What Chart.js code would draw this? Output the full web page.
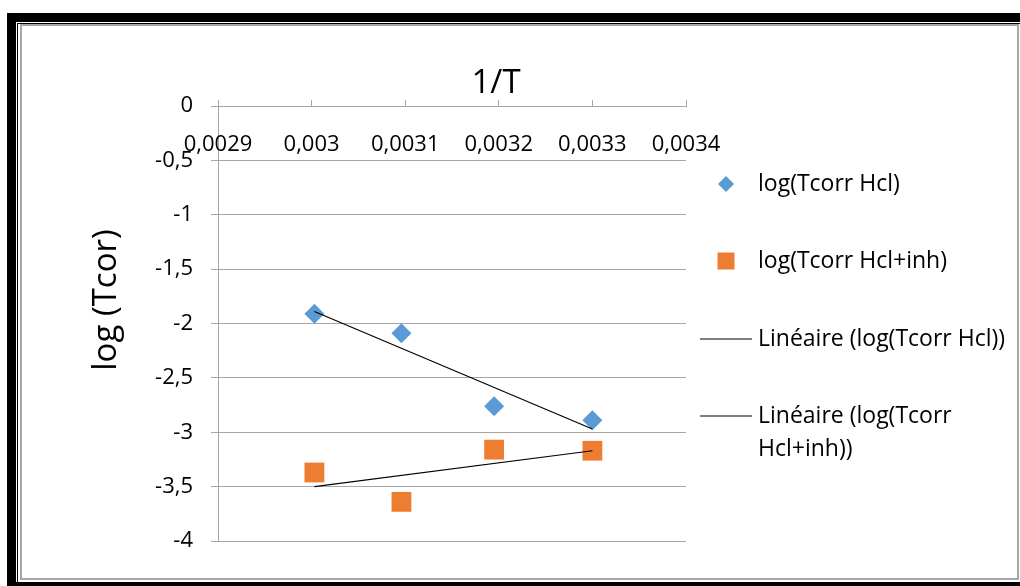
<!DOCTYPE html>
<html>
<head>
<meta charset="utf-8">
<script src="https://cdn.jsdelivr.net/npm/chart.js@4"></script>
<style>
    html, body { margin: 0; padding: 0; background: #fff; overflow: hidden; }
    body { width: 1020px; height: 586px; position: relative; }
    .outer { position: absolute; left: 7px; top: 13px; width: 1040px; height: 560px; border: 9px solid #000; }
    .inner { position: absolute; left: 17px; top: 23px; width: 1040px; height: 600px; border-left: 1px solid #000; border-top: 1px solid #000; }
    .box { position: absolute; left: 20px; top: 24px; width: 995px; height: 552px; border: 2px solid #a6a6a6; background: #fff; }
    canvas { display: block; }
</style>
</head>
<body>
<div class="outer"></div>
<div class="inner"></div>
<div class="box"><canvas id="tafelChart" width="995" height="552"></canvas></div>
<script>
// 1/T values (K^-1)
const invT = [0.003003, 0.003096, 0.003195, 0.0033];
const logTcorrHcl = [-1.91, -2.09, -2.76, -2.89];
const logTcorrInh = [-3.37, -3.64, -3.16, -3.17];

// trendline ends
const trendX = [0.003003, 0.0033];
const trendHcl = [-1.89, -2.97];
const trendInh = [-3.50, -3.17];

const xTicks = [0.0029, 0.003, 0.0031, 0.0032, 0.0033, 0.0034];
const yTicks = [0, -0.5, -1, -1.5, -2, -2.5, -3, -3.5, -4];

const legendLabels = [
    ["log(Tcorr Hcl)"],
    ["log(Tcorr Hcl+inh)"],
    ["Linéaire (log(Tcorr Hcl))"],
    ["Linéaire (log(Tcorr", "Hcl+inh))"]
];

const FONT = "'Open Sans', sans-serif";
const GRID = "#a6a6a6";
const TICK_SIZE = 22;

function pts(xs, ys) {
    return xs.map(function (x, i) { return { x: x, y: ys[i] }; });
}

function commaLabel(v) {
    return String(v).replace(".", ",");
}

// x tick labels sit under the top axis line, plus axis titles and legend
const decorations = {
    id: "decorations",
    afterDraw: function (chart) {
        const ctx = chart.ctx;
        const xs = chart.scales.x;
        ctx.save();
        ctx.fillStyle = "#000";

        ctx.font = TICK_SIZE + "px " + FONT;
        ctx.textAlign = "center";
        ctx.textBaseline = "middle";
        xTicks.forEach(function (v) {
            ctx.fillText(commaLabel(v), xs.getPixelForValue(v), xs.bottom + 39);
        });

        ctx.font = "33px " + FONT;
        ctx.textBaseline = "alphabetic";
        ctx.fillText("1/T", 474, 67);

        ctx.save();
        ctx.translate(94, 274);
        ctx.rotate(-Math.PI / 2);
        ctx.fillText("log (Tcor)", 0, 0);
        ctx.restore();

        // legend
        const rows = [158, 235, 313, 390];
        ctx.font = "23px " + FONT;
        ctx.textAlign = "left";
        ctx.textBaseline = "middle";

        ctx.fillStyle = "#5b9bd5";
        ctx.beginPath();
        ctx.moveTo(704, rows[0] - 8);
        ctx.lineTo(712, rows[0]);
        ctx.lineTo(704, rows[0] + 8);
        ctx.lineTo(696, rows[0]);
        ctx.closePath();
        ctx.fill();

        ctx.fillStyle = "#ed7d31";
        ctx.fillRect(695.5, rows[1] - 8.5, 17, 17);

        ctx.strokeStyle = "#000";
        ctx.lineWidth = 1.2;
        [rows[2], rows[3]].forEach(function (y) {
            ctx.beginPath();
            ctx.moveTo(678, y);
            ctx.lineTo(730, y);
            ctx.stroke();
        });

        ctx.fillStyle = "#000";
        legendLabels.forEach(function (lines, i) {
            lines.forEach(function (t, j) {
                ctx.fillText(t, 736, rows[i] + j * 33);
            });
        });
        ctx.restore();
    }
};

document.addEventListener("DOMContentLoaded", function () {
    let ctx = document.getElementById("tafelChart").getContext("2d");

    new Chart(ctx, {
        type: "scatter",
        data: {
            datasets: [{
                label: "log(Tcorr Hcl)",
                data: pts(invT, logTcorrHcl),
                pointStyle: "rectRot",
                pointRadius: 10,
                backgroundColor: "#5b9bd5",
                borderColor: "#5b9bd5",
                borderWidth: 0,
                order: 2
            }, {
                label: "log(Tcorr Hcl+inh)",
                data: pts(invT, logTcorrInh),
                pointStyle: "rect",
                pointRadius: 14,
                backgroundColor: "#ed7d31",
                borderColor: "#ed7d31",
                borderWidth: 0,
                order: 2
            }, {
                label: "Linéaire (log(Tcorr Hcl))",
                data: pts(trendX, trendHcl),
                showLine: true,
                pointRadius: 0,
                borderColor: "#000",
                borderWidth: 1.2,
                order: 1
            }, {
                label: "Linéaire (log(Tcorr Hcl+inh))",
                data: pts(trendX, trendInh),
                showLine: true,
                pointRadius: 0,
                borderColor: "#000",
                borderWidth: 1.2,
                order: 1
            }]
        },
        options: {
            responsive: false,
            animation: false,
            layout: { padding: { left: 0, top: 0, right: 331, bottom: 37 } },
            plugins: {
                legend: { display: false },
                tooltip: { enabled: false }
            },
            scales: {
                x: {
                    type: "linear",
                    position: "top",
                    min: 0.0029,
                    max: 0.0034,
                    afterBuildTicks: function (scale) {
                        scale.ticks = xTicks.map(function (v) { return { value: v }; });
                    },
                    afterFit: function (scale) { scale.height = 80; },
                    ticks: { display: false },
                    grid: { drawOnChartArea: false, color: GRID, tickLength: 6 },
                    border: { display: true, color: GRID }
                },
                y: {
                    type: "linear",
                    min: -4,
                    max: 0,
                    afterBuildTicks: function (scale) {
                        scale.ticks = yTicks.map(function (v) { return { value: v }; });
                    },
                    afterFit: function (scale) { scale.width = 196; },
                    ticks: {
                        callback: commaLabel,
                        color: "#000",
                        font: { family: FONT, size: TICK_SIZE },
                        padding: 18
                    },
                    grid: { color: GRID, tickLength: 7 },
                    border: { display: true, color: GRID }
                }
            }
        },
        plugins: [decorations]
    });
});
</script>
</body>
</html>
